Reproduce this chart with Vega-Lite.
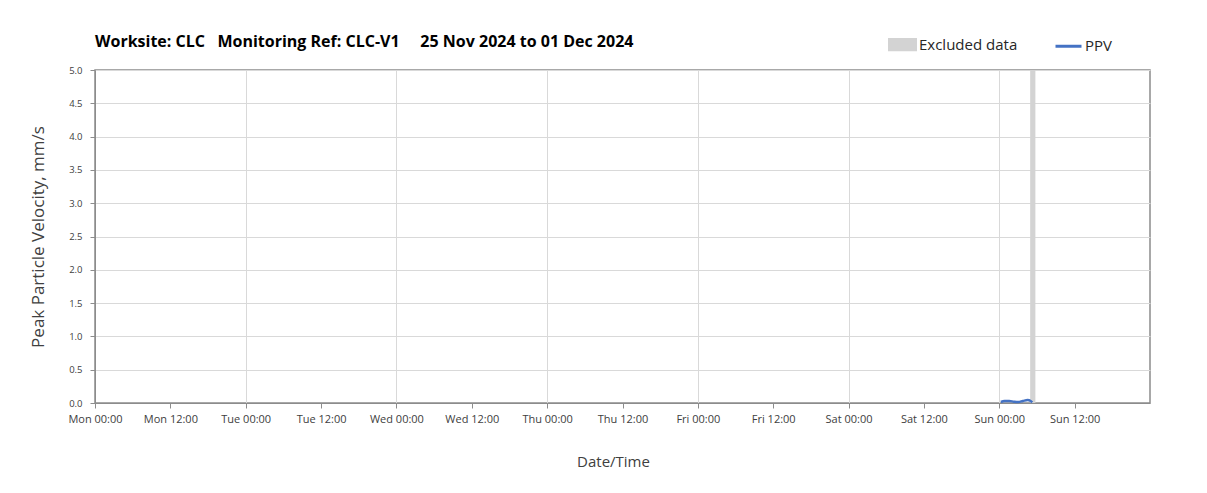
{
  "$schema": "https://vega.github.io/schema/vega-lite/v6.json",
  "width": 1055,
  "height": 333,
  "autosize": {"type": "none"},
  "padding": {"left": 95, "top": 70, "right": 57, "bottom": 90},
  "background": "white",
  "config": {
    "font": "Open Sans",
    "view": {"stroke": "#8c8c8c", "strokeWidth": 1.5},
    "axis": {"labelColor": "#404040", "titleColor": "#404040", "titleFontWeight": "normal", "tickColor": "#8c8c8c", "domainColor": "#8c8c8c", "gridColor": "#d9d9d9", "tickSize": 5}
  },
  "title": {
    "text": "Worksite: CLC\u00a0\u00a0\u00a0Monitoring Ref: CLC-V1\u00a0\u00a0\u00a0\u00a0\u00a025 Nov 2024 to 01 Dec 2024",
    "anchor": "start",
    "frame": "group",
    "fontSize": 16,
    "fontWeight": "bold",
    "color": "#000000",
    "offset": 22,
    "dy": 42
  },
  "layer": [
    {
      "data": {"values": [{"start": "2024-12-01T04:55:00Z", "end": "2024-12-01T05:45:00Z", "series": "Excluded data"}]},
      "mark": {"type": "rect"},
      "encoding": {
        "x": {"field": "start", "type": "temporal"},
        "x2": {"field": "end"},
        "color": {"field": "series", "type": "nominal"}
      }
    },
    {
      "data": {"values": [
        {"t": "2024-12-01T00:15:00Z", "ppv": 0.015, "series": "PPV"},
        {"t": "2024-12-01T00:50:00Z", "ppv": 0.03, "series": "PPV"},
        {"t": "2024-12-01T01:35:00Z", "ppv": 0.03, "series": "PPV"},
        {"t": "2024-12-01T02:20:00Z", "ppv": 0.02, "series": "PPV"},
        {"t": "2024-12-01T03:00:00Z", "ppv": 0.015, "series": "PPV"},
        {"t": "2024-12-01T03:45:00Z", "ppv": 0.03, "series": "PPV"},
        {"t": "2024-12-01T04:30:00Z", "ppv": 0.045, "series": "PPV"},
        {"t": "2024-12-01T05:00:00Z", "ppv": 0.03, "series": "PPV"},
        {"t": "2024-12-01T05:15:00Z", "ppv": 0.008, "series": "PPV"}
      ]},
      "mark": {"type": "line", "interpolate": "monotone", "strokeWidth": 2.5},
      "encoding": {
        "x": {
          "field": "t",
          "type": "temporal",
          "scale": {"type": "utc", "domain": [{"year": 2024, "month": 11, "date": 25, "hours": 0, "utc": true}, {"year": 2024, "month": 12, "date": 2, "hours": 0, "utc": true}]},
          "axis": {
            "title": "Date/Time",
            "titleFontSize": 15,
            "titlePadding": 30,
            "titleX": 518,
            "labelFontSize": 11,
            "labelPadding": 5,
            "labelOverlap": false,
            "labelFlush": false,
            "labelExpr": "utcFormat(datum.value, '%a %H:%M')",
            "values": [
              {"year": 2024, "month": 11, "date": 25, "hours": 0, "utc": true},
              {"year": 2024, "month": 11, "date": 25, "hours": 12, "utc": true},
              {"year": 2024, "month": 11, "date": 26, "hours": 0, "utc": true},
              {"year": 2024, "month": 11, "date": 26, "hours": 12, "utc": true},
              {"year": 2024, "month": 11, "date": 27, "hours": 0, "utc": true},
              {"year": 2024, "month": 11, "date": 27, "hours": 12, "utc": true},
              {"year": 2024, "month": 11, "date": 28, "hours": 0, "utc": true},
              {"year": 2024, "month": 11, "date": 28, "hours": 12, "utc": true},
              {"year": 2024, "month": 11, "date": 29, "hours": 0, "utc": true},
              {"year": 2024, "month": 11, "date": 29, "hours": 12, "utc": true},
              {"year": 2024, "month": 11, "date": 30, "hours": 0, "utc": true},
              {"year": 2024, "month": 11, "date": 30, "hours": 12, "utc": true},
              {"year": 2024, "month": 12, "date": 1, "hours": 0, "utc": true},
              {"year": 2024, "month": 12, "date": 1, "hours": 12, "utc": true}
            ],
            "grid": true,
            "gridOpacity": {"condition": {"test": "utchours(datum.value) == 0", "value": 1}, "value": 0}
          }
        },
        "y": {
          "field": "ppv",
          "type": "quantitative",
          "scale": {"domain": [0, 5], "nice": false},
          "axis": {
            "title": "Peak Particle Velocity, mm/s",
            "titleFontSize": 17,
            "titlePadding": 21,
            "values": [0, 0.5, 1, 1.5, 2, 2.5, 3, 3.5, 4, 4.5, 5],
            "format": ".1f",
            "labelFontSize": 9.5,
            "labelPadding": 8,
            "grid": true
          }
        },
        "color": {
          "field": "series",
          "type": "nominal",
          "scale": {"domain": ["Excluded data", "PPV"], "range": ["#d3d3d3", "#4472c4"]},
          "legend": {
            "title": null,
            "orient": "none",
            "legendX": 793,
            "legendY": -40,
            "direction": "horizontal",
            "symbolSize": 676,
            "labelFontSize": 15,
            "labelColor": "#262626",
            "labelOffset": 2,
            "columnPadding": 31,
            "encode": {
              "symbols": {
                "update": {
                  "shape": {"signal": "datum.value === 'PPV' ? 'stroke' : 'M-1,-0.4H1V0.4H-1Z'"},
                  "fill": {"signal": "datum.value === 'PPV' ? 'transparent' : '#d3d3d3'"},
                  "stroke": {"signal": "datum.value === 'PPV' ? '#4472c4' : 'transparent'"},
                  "strokeWidth": {"value": 3},
                  "opacity": {"value": 1}
                }
              }
            }
          }
        }
      }
    }
  ]
}
